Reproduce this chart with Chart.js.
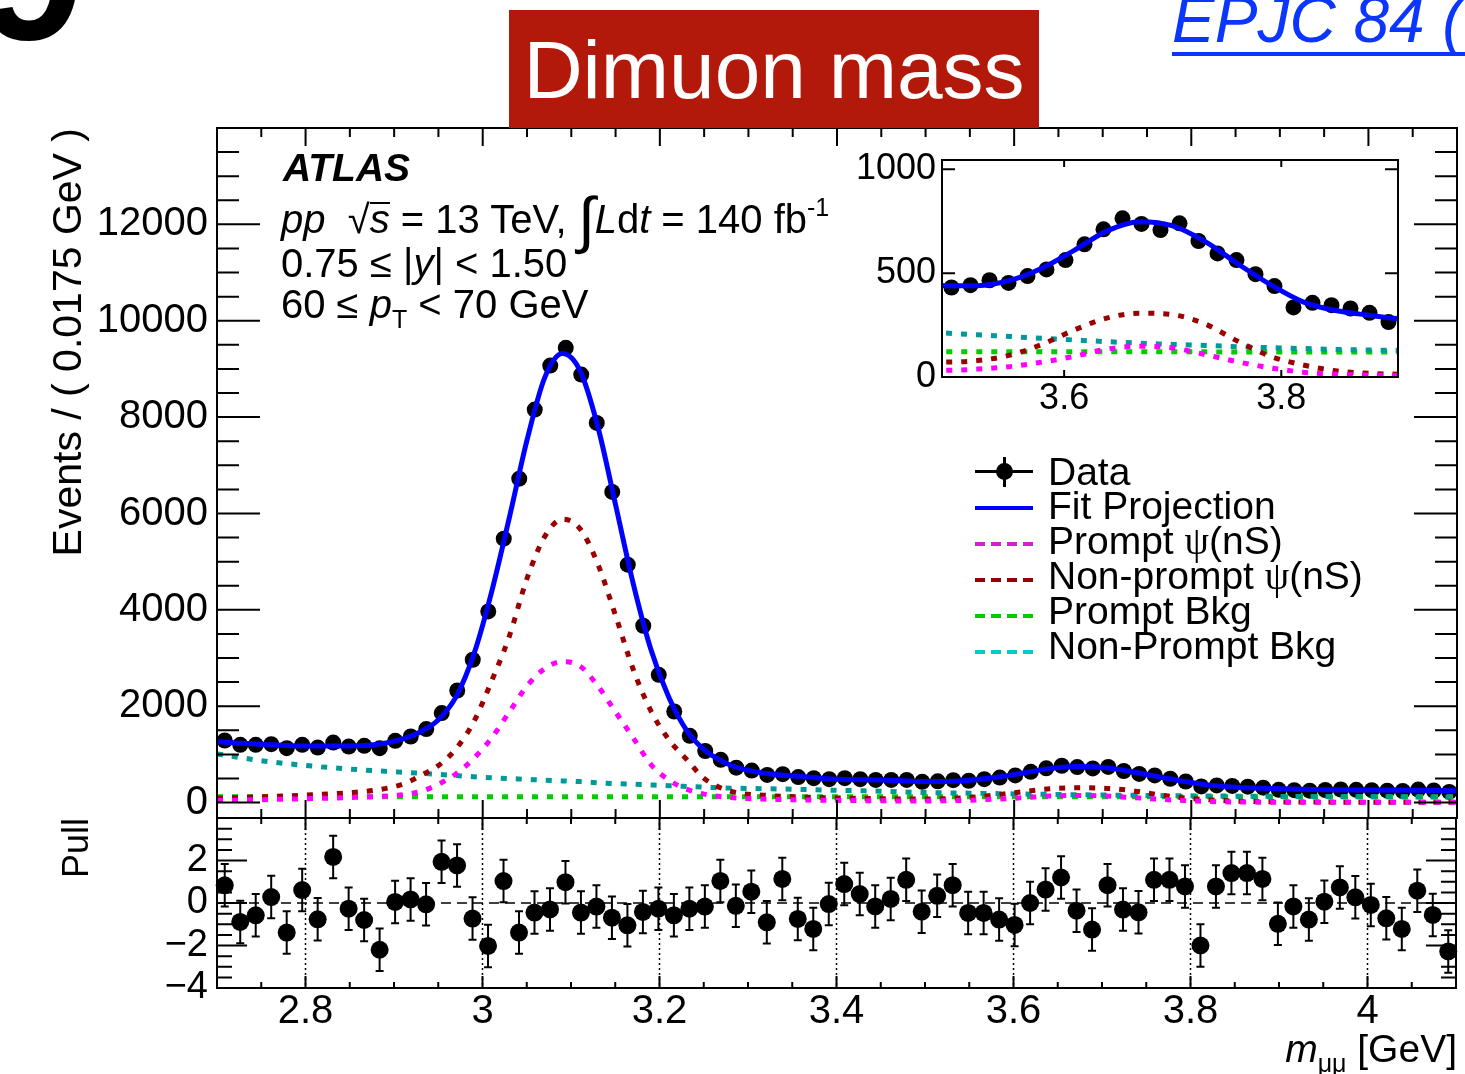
<!DOCTYPE html>
<html lang="en">
<head>
<meta charset="UTF-8">
<meta name="viewport" content="width=device-width, initial-scale=1.0">
<script src="https://cdn.jsdelivr.net/npm/chart.js@4.4.1/dist/chart.umd.min.js"></script>
<title>Dimuon mass</title>
<style>
  html, body { margin: 0; padding: 0; background: #fff; }
  #page { position: relative; width: 1465px; height: 1074px; overflow: hidden;
          font-family: "Liberation Sans", Arial, Helvetica, sans-serif; color: #000; }
  .layer { position: absolute; left: 0; top: 0; width: 1465px; height: 1074px; }
  .txt { position: absolute; white-space: nowrap; line-height: 1; }
  .tag { position: absolute; left: 509px; top: 10px; width: 530px; height: 118px; background: #b2190a; }
  .sub { font-size: 25px; position: relative; top: 10px; }
  .sup { font-size: 25px; position: relative; top: -17px; }
  .lg-text { position: absolute; left: 1048px; font-size: 39px; line-height: 1; white-space: nowrap; }
  .lg-dash { position: absolute; left: 975px; width: 58px; height: 4px; }
  .psi { font-family: "Liberation Serif", "DejaVu Serif", serif; }
</style>
</head>
<body>
<div id="page">
  <div class="layer"><canvas id="mainChart"></canvas></div>
  <div class="layer"><canvas id="pullChart"></canvas></div>
  <div class="layer"><canvas id="insetChart"></canvas></div>

  <div class="txt" style="left:-21px; top:-122px; font-size:190px; font-weight:bold;">9</div>
  <div class="tag"><div class="txt" style="left:0; width:530px; text-align:center; top:19px; font-size:82px; color:#fff;">Dimuon mass</div></div>
  <div class="txt" style="left:1172px; top:-12px; font-size:64px; font-style:italic; color:#0a36ff;">EPJC 84 (</div>
  <div style="position:absolute; left:1172px; top:52px; width:300px; height:4px; background:#0a36ff;"></div>

  <!-- ATLAS label -->
  <div class="txt" style="left:283px; top:148px; font-size:39px; font-weight:bold; font-style:italic;">ATLAS</div>
  <div class="txt" style="left:281px; top:199px; font-size:40px;"><i>pp</i>&nbsp; √<span style="border-top:2px solid #000; display:inline-block; line-height:31px;"><i>s</i></span> = 13 TeV, <span style="font-size:62px; line-height:0; position:relative; top:8px;">∫</span><i>L</i>d<i>t</i> = 140 fb<span class="sup">-1</span></div>
  <div class="txt" style="left:281px; top:243px; font-size:40px;">0.75 ≤ |<i>y</i>| &lt; 1.50</div>
  <div class="txt" style="left:281px; top:284px; font-size:40px;">60 ≤ <i>p</i><span class="sub">T</span> &lt; 70 GeV</div>

  <!-- legend -->
  <div style="position:absolute; left:975px; top:470px; width:58px; height:3px; background:#000;"></div>
  <div style="position:absolute; left:1003px; top:457px; width:3px; height:30px; background:#000;"></div>
  <div style="position:absolute; left:996px; top:463px; width:17px; height:17px; border-radius:50%; background:#000;"></div>
  <div class="lg-dash" style="top:506px; background:#0000ff;"></div>
  <div class="lg-dash" style="top:542px; background:repeating-linear-gradient(to right, #d020d0 0 10px, transparent 10px 16px);"></div>
  <div class="lg-dash" style="top:578px; background:repeating-linear-gradient(to right, #990000 0 10px, transparent 10px 16px);"></div>
  <div class="lg-dash" style="top:614px; background:repeating-linear-gradient(to right, #00cc00 0 10px, transparent 10px 16px);"></div>
  <div class="lg-dash" style="top:650px; background:repeating-linear-gradient(to right, #00cccc 0 10px, transparent 10px 16px);"></div>
  <div class="lg-text" style="top:452px;">Data</div>
  <div class="lg-text" style="top:486px;">Fit Projection</div>
  <div class="lg-text" style="top:521px;">Prompt <span class="psi">ψ</span>(nS)</div>
  <div class="lg-text" style="top:556px;">Non-prompt <span class="psi">ψ</span>(nS)</div>
  <div class="lg-text" style="top:591px;">Prompt Bkg</div>
  <div class="lg-text" style="top:626px;">Non-Prompt Bkg</div>

  <div class="txt" style="right:8px; top:1029px; font-size:39px;"><i>m</i><span class="sub">μμ</span> [GeV]</div>
</div>

<script>
const massLo = 2.7;
const massHi = 4.1;
const binWidth = 0.0175;

// events per 0.0175 GeV bin
const counts = [
  1288, 1198, 1198, 1213, 1130, 1198, 1142, 1246, 1163, 1178,
  1130, 1282, 1371, 1525, 1857, 2326, 2964, 3967, 5477, 6723,
  8156, 9070, 9438, 8883, 7880, 6447, 4937, 3670, 2652, 1890,
  1385, 1070, 887, 725, 665, 575, 590, 530, 506, 486,
  506, 486, 471, 471, 471, 431, 442, 466, 453, 486,
  518, 563, 639, 711, 764, 737, 708, 740, 655, 595,
  563, 495, 438, 335, 357, 346, 330, 309, 265, 257,
  248, 261, 272, 264, 258, 248, 240, 269, 251, 222
];
const pulls = [
  0.83, -0.89, -0.58, 0.28, -1.39, 0.61, -0.77, 2.17, -0.27, -0.80,
  -2.20, 0.05, 0.17, -0.06, 1.94, 1.77, -0.73, -2.02, 1.03, -1.39,
  -0.45, -0.30, 0.98, -0.45, -0.17, -0.69, -1.05, -0.42, -0.27, -0.58,
  -0.27, -0.17, 1.04, -0.13, 0.53, -0.91, 1.13, -0.75, -1.22, -0.05,
  0.89, 0.42, -0.16, 0.19, 1.09, -0.41, 0.34, 0.84, -0.47, -0.47,
  -0.78, -1.03, 0.00, 0.63, 1.20, -0.36, -1.25, 0.84, -0.31, -0.44,
  1.09, 1.09, 0.78, -2.00, 0.78, 1.41, 1.41, 1.13, -0.98, -0.16,
  -0.78, 0.06, 0.73, 0.27, -0.09, -0.72, -1.22, 0.58, -0.56, -2.28
];
const pullErr = 1;

// fit curves, read at these masses
const curveMass = [
  2.70, 2.75, 2.80, 2.85, 2.88, 2.91, 2.93, 2.95, 2.97, 2.99,
  3.01, 3.03, 3.05, 3.07, 3.09, 3.11, 3.13, 3.15, 3.17, 3.19,
  3.21, 3.23, 3.25, 3.28, 3.32, 3.36, 3.40, 3.45, 3.49, 3.52,
  3.55, 3.58, 3.61, 3.64, 3.67, 3.70, 3.73, 3.76, 3.79, 3.82,
  3.85, 3.88, 3.91, 3.95, 4.00, 4.05, 4.10
];
const fitTotal = [
  1262, 1210, 1175, 1175, 1205, 1323, 1470, 1721, 2200, 3080,
  4370, 5910, 7520, 8820, 9320, 8960, 7800, 6180, 4540, 3170,
  2190, 1505, 1100, 775, 602, 544, 486, 471, 440, 440,
  465, 525, 612, 705, 748, 728, 652, 545, 445, 362,
  320, 298, 280, 268, 260, 254, 248
];
const promptPsi = [
  42, 60, 80, 105, 125, 165, 230, 380, 600, 920,
  1340, 1880, 2420, 2780, 2925, 2830, 2420, 1880, 1340, 790,
  470, 280, 175, 105, 70, 55, 45, 38, 32, 38,
  50, 72, 100, 135, 148, 140, 108, 73, 44, 23,
  13, 9, 7, 6, 5, 5, 5
];
const nonPromptPsi = [
  90, 120, 155, 205, 260, 385, 560, 770, 1120, 1680,
  2520, 3450, 4650, 5520, 5880, 5680, 4950, 3880, 2760, 1900,
  1310, 900, 500, 235, 150, 115, 95, 82, 72, 79,
  105, 158, 228, 285, 307, 300, 255, 172, 100, 58,
  30, 18, 13, 10, 8, 7, 6
];
const promptBkg = [
  122, 122, 122, 122, 122, 122, 122, 122, 122, 121,
  121, 121, 121, 121, 121, 121, 121, 121, 121, 121,
  121, 121, 121, 121, 121, 121, 121, 121, 121, 121,
  121, 121, 121, 121, 121, 121, 121, 120, 120, 120,
  120, 120, 120, 120, 120, 119, 119
];
const nonPromptBkg = [
  1010, 870, 770, 695, 660, 630, 610, 585, 560, 535,
  515, 498, 482, 465, 450, 435, 410, 395, 380, 365,
  350, 335, 320, 300, 288, 272, 255, 235, 212, 203,
  195, 186, 178, 170, 163, 157, 152, 146, 141, 137,
  133, 130, 128, 125, 121, 118, 115
];

const countTicks = [0, 2000, 4000, 6000, 8000, 10000, 12000];
const pullTicks = [-4, -2, 0, 2];
const pullTickLabels = ['\u22124', '\u22122', '0', '2'];
const massTicks = [2.8, 3.0, 3.2, 3.4, 3.6, 3.8, 4.0];
const massTickLabels = ['2.8', '3', '3.2', '3.4', '3.6', '3.8', '4'];
const insetLo = 3.4875;
const insetHi = 3.9075;
const insetCountTicks = [0, 500, 1000];
const insetMassTicks = [3.6, 3.8];
const insetMassLabels = ['3.6', '3.8'];

// minor tick positions
function steps(from, to, step, skip) {
  const out = [];
  for (let v = from; v <= to + 1e-9; v += step) {
    const r = Math.round(v * 1000) / 1000;
    if (!skip.some(s => Math.abs(s - r) < 1e-6)) out.push(r);
  }
  return out;
}
const massMinor = steps(2.7, 4.1, 0.05, massTicks);
const countMinor = steps(0, 14000, 500, countTicks);
const pullMinor = steps(-4, 4, 0.5, pullTicks);

const binCenters = counts.map((_, i) => massLo + (i + 0.5) * binWidth);
const pts = (xs, ys) => xs.map((x, i) => ({ x: x, y: ys[i] }));

Chart.defaults.font.family = '"Liberation Sans", Arial, Helvetica, sans-serif';
Chart.defaults.color = '#000';

// ROOT style frame with inward ticks on all four sides
const hepFrame = {
  id: 'hepFrame',
  afterDatasetsDraw(chart, args, o) {
    const { ctx, chartArea: a } = chart;
    const xs = chart.scales.x, ys = chart.scales.y;
    ctx.save();
    ctx.strokeStyle = '#000';
    ctx.lineWidth = 2;
    ctx.beginPath();
    const xt = (vals, len) => vals.forEach(v => {
      const p = xs.getPixelForValue(v);
      if (p <= a.left + 1 || p >= a.right - 1) return;
      if (o.bottom) { ctx.moveTo(p, a.bottom); ctx.lineTo(p, a.bottom - len); }
      if (o.top) { ctx.moveTo(p, a.top); ctx.lineTo(p, a.top + len); }
    });
    const yt = (vals, len) => vals.forEach(v => {
      const p = ys.getPixelForValue(v);
      if (p <= a.top + 1 || p >= a.bottom - 1) return;
      ctx.moveTo(a.left, p); ctx.lineTo(a.left + len, p);
      ctx.moveTo(a.right, p); ctx.lineTo(a.right - len, p);
    });
    xt(o.xMajor, o.xLen[0]);
    xt(o.xMinor, o.xLen[1]);
    yt(o.yMajor, o.yLen[0]);
    yt(o.yMinor, o.yLen[1]);
    ctx.stroke();
    ctx.strokeRect(a.left, a.top, a.right - a.left, a.bottom - a.top);
    ctx.restore();
  }
};

// dotted verticals, dashed zero line and error bars of the pull panel
const pullGuides = {
  id: 'pullGuides',
  beforeDatasetsDraw(chart) {
    const { ctx, chartArea: a } = chart;
    const x = chart.scales.x, y = chart.scales.y;
    ctx.save();
    ctx.strokeStyle = '#000';
    ctx.lineWidth = 1.5;
    ctx.setLineDash([2, 3]);
    massTicks.forEach(v => {
      const p = x.getPixelForValue(v);
      ctx.beginPath(); ctx.moveTo(p, a.top); ctx.lineTo(p, a.bottom); ctx.stroke();
    });
    ctx.setLineDash([10, 6]);
    const p0 = y.getPixelForValue(0);
    ctx.beginPath(); ctx.moveTo(a.left, p0); ctx.lineTo(a.right, p0); ctx.stroke();
    ctx.setLineDash([]);
    ctx.lineWidth = 2;
    chart.getDatasetMeta(0).data.forEach((pt, i) => {
      const yt = y.getPixelForValue(pulls[i] + pullErr);
      const yb = y.getPixelForValue(pulls[i] - pullErr);
      ctx.beginPath();
      ctx.moveTo(pt.x, yt); ctx.lineTo(pt.x, yb);
      ctx.moveTo(pt.x - 4, yt); ctx.lineTo(pt.x + 4, yt);
      ctx.moveTo(pt.x - 4, yb); ctx.lineTo(pt.x + 4, yb);
      ctx.stroke();
    });
    ctx.restore();
  }
};

function curveSet(label, values, color, dashed, order) {
  return {
    label: label,
    data: pts(curveMass, values),
    borderColor: color,
    borderWidth: 5,
    borderDash: dashed ? [6, 9] : [],
    borderCapStyle: 'butt',
    pointRadius: 0,
    cubicInterpolationMode: 'monotone',
    fill: false,
    clip: 0,
    order: order
  };
}

function components() {
  return [
    curveSet('Fit Projection', fitTotal, '#0000ff', false, 1),
    curveSet('Prompt psi(nS)', promptPsi, '#ff00ff', true, 2),
    curveSet('Non-prompt psi(nS)', nonPromptPsi, '#990000', true, 3),
    curveSet('Prompt Bkg', promptBkg, '#00cc00', true, 5),
    curveSet('Non-Prompt Bkg', nonPromptBkg, '#009999', true, 4)
  ];
}

function baseOptions(pad) {
  return {
    responsive: true,
    maintainAspectRatio: false,
    animation: false,
    events: [],
    layout: { padding: pad },
    plugins: { legend: { display: false }, tooltip: { enabled: false } }
  };
}

// main panel
const mainOpts = baseOptions({ top: 128, right: 8, bottom: 256, left: 0 });
mainOpts.plugins.hepFrame = { xMajor: massTicks, xMinor: massMinor, yMajor: countTicks, yMinor: countMinor,
  xLen: [18, 9], yLen: [43, 22], top: true, bottom: true };
mainOpts.scales = {
  x: { type: 'linear', min: massLo, max: massHi, display: false },
  y: {
    type: 'linear', min: -320, max: 14000,
    grid: { display: false, drawTicks: false }, border: { display: false },
    afterBuildTicks: s => { s.ticks = countTicks.map(v => ({ value: v })); },
    ticks: { font: { size: 40 }, color: '#000', padding: 9, callback: v => String(v) },
    title: { display: true, text: 'Events / ( 0.0175 GeV )', align: 'end', color: '#000',
             font: { size: 41 }, padding: { top: 45, bottom: 0 } },
    afterFit: s => { s.width = 217; }
  }
};
new Chart(document.getElementById('mainChart'), {
  type: 'line',
  data: {
    datasets: [{
      label: 'Data', data: pts(binCenters, counts), showLine: false,
      pointRadius: 8, pointBackgroundColor: '#000', pointBorderWidth: 0, clip: 10, order: 10
    }].concat(components())
  },
  options: mainOpts,
  plugins: [hepFrame]
});

// pull panel
const pullOpts = baseOptions({ top: 818, right: 8, bottom: 0, left: 0 });
pullOpts.plugins.hepFrame = { xMajor: massTicks, xMinor: massMinor, yMajor: pullTicks, yMinor: pullMinor,
  xLen: [12, 6], yLen: [30, 15], top: true, bottom: true };
pullOpts.scales = {
  x: {
    type: 'linear', min: massLo, max: massHi,
    grid: { display: false, drawTicks: false }, border: { display: false },
    afterBuildTicks: s => { s.ticks = massTicks.map(v => ({ value: v })); },
    ticks: { font: { size: 40 }, color: '#000', padding: 0, autoSkip: false, maxRotation: 0,
             callback: (v, i) => massTickLabels[i] },
    afterFit: s => { s.height = 86; }
  },
  y: {
    type: 'linear', min: -4, max: 4,
    grid: { display: false, drawTicks: false }, border: { display: false },
    afterBuildTicks: s => { s.ticks = pullTicks.map(v => ({ value: v })); },
    ticks: { font: { size: 38 }, color: '#000', padding: 9, callback: (v, i) => pullTickLabels[i] },
    title: { display: true, text: 'Pull', align: 'end', color: '#000',
             font: { size: 36 }, padding: { top: 56, bottom: 0 } },
    afterFit: s => { s.width = 217; }
  }
};
new Chart(document.getElementById('pullChart'), {
  type: 'line',
  data: {
    datasets: [{
      label: 'Pull', data: pts(binCenters, pulls), showLine: false,
      pointRadius: 9, pointBackgroundColor: '#000', pointBorderWidth: 0, clip: 10
    }]
  },
  options: pullOpts,
  plugins: [pullGuides, hepFrame]
});

// inset zoom on the psi(2S) region
const insetOpts = baseOptions({ top: 160, right: 67, bottom: 647, left: 0 });
insetOpts.plugins.hepFrame = { xMajor: insetMassTicks, xMinor: [], yMajor: insetCountTicks, yMinor: [],
  xLen: [7, 4], yLen: [13, 7], top: true, bottom: true };
insetOpts.scales = {
  x: {
    type: 'linear', min: insetLo, max: insetHi,
    grid: { display: false, drawTicks: false }, border: { display: false },
    afterBuildTicks: s => { s.ticks = insetMassTicks.map(v => ({ value: v })); },
    ticks: { font: { size: 36 }, color: '#000', padding: 0, autoSkip: false, maxRotation: 0,
             callback: (v, i) => insetMassLabels[i] },
    afterFit: s => { s.height = 50; }
  },
  y: {
    type: 'linear', min: 0, max: 1045,
    grid: { display: false, drawTicks: false }, border: { display: false },
    afterBuildTicks: s => { s.ticks = insetCountTicks.map(v => ({ value: v })); },
    ticks: { font: { size: 36 }, color: '#000', padding: 6, callback: v => String(v) },
    afterFit: s => { s.width = 942; }
  }
};
const insetData = pts(binCenters, counts).filter(p => p.x > insetLo && p.x < insetHi);
new Chart(document.getElementById('insetChart'), {
  type: 'line',
  data: {
    datasets: [{
      label: 'Data', data: insetData, showLine: false,
      pointRadius: 8, pointBackgroundColor: '#000', pointBorderWidth: 0, clip: 10, order: 10
    }].concat(components())
  },
  options: insetOpts,
  plugins: [hepFrame]
});
</script>
</body>
</html>
